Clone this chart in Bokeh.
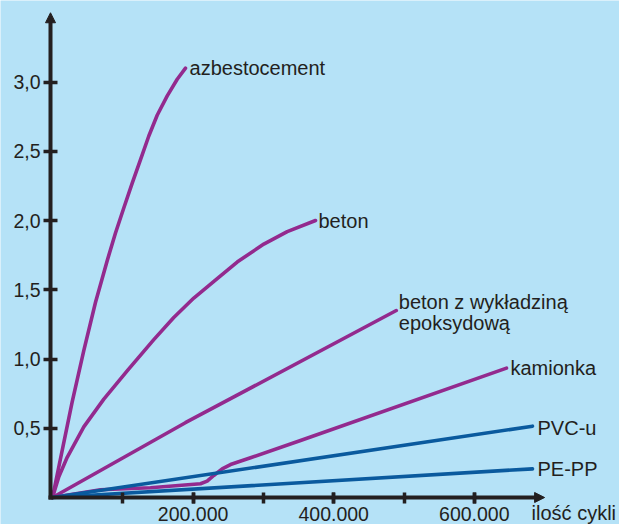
from bokeh.plotting import figure
from bokeh.models import Range1d, FixedTicker, CustomJSTickFormatter, Arrow, NormalHead, ColumnDataSource
from bokeh.core.properties import value
from bokeh.embed import file_html
from bokeh.resources import INLINE

# ---------------- data ----------------
azbest_x = [0, 13800, 28000, 44500, 61200, 77800, 89600, 101400, 113400, 125200, 137000, 148900, 163200, 177400, 189200]
azbest_y = [0, 0.34, 0.69, 1.06, 1.41, 1.71, 1.91, 2.09, 2.27, 2.44, 2.61, 2.76, 2.90, 3.02, 3.10]

beton_x = [0, 9000, 20900, 44500, 73000, 107100, 144100, 172500, 201000, 234300, 262700, 300600, 333900, 374100]
beton_y = [0, 0.15, 0.29, 0.51, 0.71, 0.92, 1.14, 1.30, 1.44, 1.58, 1.70, 1.83, 1.92, 2.00]

epoksyd_x = [0, 189000, 489000]
epoksyd_y = [0, 0.54, 1.35]

kamionka_x = [0, 68300, 139400, 210500, 220000, 229400, 241400, 253200, 281700, 352800, 645800]
kamionka_y = [0, 0.056, 0.070, 0.099, 0.118, 0.159, 0.207, 0.238, 0.287, 0.412, 0.934]

pvc_x = [0, 682800]
pvc_y = [0, 0.515]

pepp_x = [0, 682800]
pepp_y = [0, 0.207]

series_names = ["azbestocement", "beton", "beton z wykładziną", "kamionka", "PVC-u", "PE-PP"]

y_ticks = [0.5, 1.0, 1.5, 2.0, 2.5, 3.0]
y_tick_labels = ["0,5", "1,0", "1,5", "2,0", "2,5", "3,0"]
x_ticks = [200000, 400000, 600000]
x_tick_labels = ["200.000", "400.000", "600.000"]
x_minor_ticks = [100000, 200000, 300000, 400000, 500000, 600000]
x_axis_title = "ilość cykli"
second_line = "epoksydową"

X_AXIS_MAX = 700000
Y_AXIS_MAX = 3.5

# ---------------- style / layout ----------------
BG = "#b5e2f7"
PURPLE = "#932a8e"
BLUE = "#0a5a9e"
INK = "#231f20"
FONT = "Liberation Sans"

W, H = 619, 524
PX0, PY0 = 52, 497          # pixel of data origin inside the figure
SX = 70.3 / 100000          # px per x unit
SY = 138.5                  # px per y unit

p = figure(width=W, height=H, output_backend="svg", toolbar_location=None,
           x_range=Range1d(-PX0 / SX, (W - PX0) / SX),
           y_range=Range1d(-(H - PY0) / SY, PY0 / SY),
           min_border=0)
p.background_fill_color = BG
p.border_fill_color = BG
p.outline_line_color = None
p.grid.visible = False

AXIS_X = -2.0 / SX   # y axis line sits slightly left of origin

xa = p.xaxis[0]
ya = p.yaxis[0]
xa.fixed_location = 0
ya.fixed_location = AXIS_X

for ax in (xa, ya):
    ax.axis_line_color = INK
    ax.axis_line_width = 4
    ax.major_tick_line_color = INK
    ax.major_tick_line_width = 3.5
    ax.minor_tick_line_color = INK
    ax.minor_tick_line_width = 3.5
    ax.major_label_text_font = FONT
    ax.major_label_text_font_size = "19.5px"
    ax.major_label_text_color = INK

fmt_code = """
for (let i = 0; i < tv.length; i++) {
    if (Math.abs(tv[i] - tick) < 1e-6 * Math.max(1, Math.abs(tick))) return tl[i];
}
return "";
"""
ya.ticker = FixedTicker(ticks=y_ticks, minor_ticks=[])
ya.formatter = CustomJSTickFormatter(args=dict(tv=y_ticks, tl=y_tick_labels), code=fmt_code)
ya.major_tick_in = 7
ya.major_tick_out = 7
ya.minor_tick_in = 0
ya.minor_tick_out = 0
ya.major_label_standoff = 3
ya.bounds = (-2.0 / SY, Y_AXIS_MAX - 9 / SY)

xa.ticker = FixedTicker(ticks=x_ticks, minor_ticks=x_minor_ticks)
xa.formatter = CustomJSTickFormatter(args=dict(tv=x_ticks, tl=x_tick_labels), code=fmt_code)
xa.major_tick_in = 5
xa.major_tick_out = 6
xa.minor_tick_in = 5
xa.minor_tick_out = 6
xa.major_label_standoff = 3
xa.bounds = (AXIS_X - 2.0 / SX, X_AXIS_MAX - 9 / SX)

# arrow heads
p.add_layout(Arrow(end=NormalHead(size=10, fill_color=INK, line_color=INK, line_width=1),
                   x_start=AXIS_X, y_start=Y_AXIS_MAX - 0.3, x_end=AXIS_X, y_end=Y_AXIS_MAX,
                   line_alpha=0))
p.add_layout(Arrow(end=NormalHead(size=10, fill_color=INK, line_color=INK, line_width=1),
                   x_start=X_AXIS_MAX - 50000, y_start=0, x_end=X_AXIS_MAX, y_end=0,
                   line_alpha=0))

# curves
all_x = [azbest_x, beton_x, epoksyd_x, kamionka_x, pvc_x, pepp_x]
all_y = [azbest_y, beton_y, epoksyd_y, kamionka_y, pvc_y, pepp_y]
colors = [PURPLE, PURPLE, PURPLE, PURPLE, BLUE, BLUE]
for xs, ys, c in zip(all_x, all_y, colors):
    p.line(xs, ys, line_width=3.6, line_color=c, line_join="round", line_cap="round")

# labels at the curve ends (pixel offsets)
dx = [4, 3, 2.5, 4, 5, 5]
dy = [0, 0, -9, 0, 2, 0]
lab = ColumnDataSource(dict(
    x=[s[-1] for s in all_x] + [epoksyd_x[-1], X_AXIS_MAX],
    y=[s[-1] for s in all_y] + [epoksyd_y[-1], 0],
    text=series_names + [second_line, x_axis_title],
    xo=dx + [2.5, -13],
    yo=dy + [12, 15],
))
p.text(x="x", y="y", text="text", x_offset="xo", y_offset="yo", source=lab,
       text_font=value(FONT), text_font_size="20px", text_color=INK,
       text_align="left", text_baseline="alphabetic")

open("out.html", "w").write(file_html(p, INLINE))
